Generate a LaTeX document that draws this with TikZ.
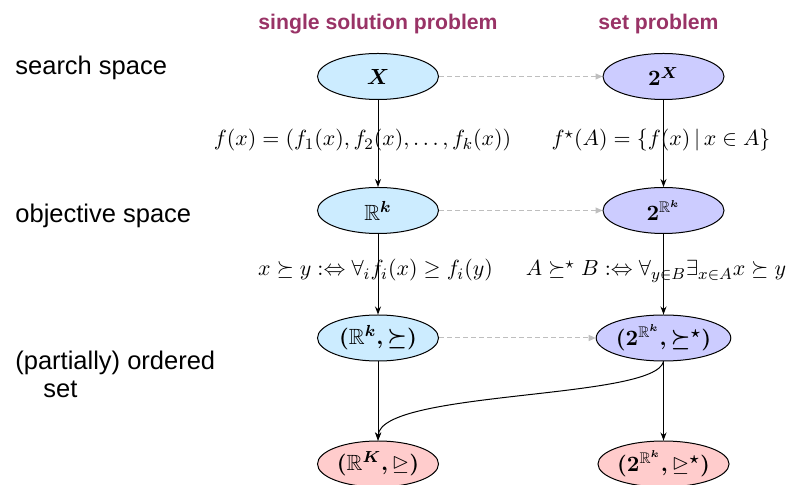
\documentclass[tikz,border=0pt]{standalone}
\usepackage{amsmath,amssymb}
\usepackage{fontspec}
\newfontfamily\arial{Liberation Sans}
\usetikzlibrary{arrows.meta,shapes.geometric}
\definecolor{hdr}{RGB}{153,51,102}
\definecolor{lblue}{RGB}{204,236,255}
\definecolor{lviolet}{RGB}{204,204,255}
\definecolor{lpink}{RGB}{255,204,204}
\definecolor{dgray}{RGB}{190,190,190}
\begin{document}
\begin{tikzpicture}[x=0.5pt,y=-0.5pt,
  ell/.style={ellipse,draw=black,line width=0.5pt,minimum width=60.5pt,minimum height=23pt,inner sep=0pt,font=\fontsize{11}{13}\selectfont\boldmath},
  lcol/.style={ell,fill=lblue},
  rcol/.style={ell,fill=lviolet},
  bcol/.style={ell,fill=lpink},
  sidelab/.style={anchor=base west,inner sep=0pt,font=\arial\fontsize{12.75}{15}\selectfont},
  hdrlab/.style={anchor=base,inner sep=0pt,text=hdr,font=\arial\bfseries\fontsize{10.6}{13}\selectfont},
  mathlab/.style={anchor=base,inner sep=0pt,font=\fontsize{11}{13}\selectfont},
  varrow/.style={line width=0.5pt,-{Stealth[length=4pt,width=3pt]}},
  harrow/.style={draw=dgray,line width=0.5pt,dash pattern=on 2.5pt off 1.5pt,-{Triangle[length=3.5pt,width=3pt,fill=dgray]}}
]
\useasboundingbox (0,0) rectangle (787,485);
% headers
\node[hdrlab] (h1) at (378,30) {single solution problem};
\node[hdrlab] (h2) at (658.5,30) {set problem};
% side labels
\node[sidelab] (s1) at (15,75) {search space};
\node[sidelab] (s2) at (15,223) {objective space};
\node[sidelab] (s3) at (15,370) {(partially) ordered};
\node[sidelab] (s4) at (43,398) {set};
% nodes
\node[lcol] (L1) at (378,76.5) {$X$};
\node[rcol] (R1) at (663.5,76.5) {$2^X$};
\node[lcol] (L2) at (378,210.5) {$\mathbb{R}^k$};
\node[rcol] (R2) at (663.5,210.5) {$2^{\mathbb{R}^k}$};
\node[lcol] (L3) at (378,338) {$(\mathbb{R}^k,\succeq)$};
\node[rcol] (R3) at (663.5,338) {$(2^{\mathbb{R}^k},\succeq^\star)$};
\node[bcol] (L4) at (378,464) {$(\mathbb{R}^K,\trianglerighteq)$};
\node[bcol] (R4) at (663.5,464) {$(2^{\mathbb{R}^k},\trianglerighteq^\star)$};
% connectors
\draw[varrow] (L1) -- (L2);
\draw[varrow] (L2) -- (L3);
\draw[varrow] (L3) -- (L4);
\draw[varrow] (R1) -- (R2);
\draw[varrow] (R2) -- (R3);
\draw[varrow] (R3) -- (R4);
\draw[harrow] (L1) -- (R1);
\draw[harrow] (L2) -- (R2);
\draw[harrow] (L3) -- (R3);
\draw[varrow] (R3.south) .. controls (655,400) and (380,390) .. (L4.north);
% labels
\node[mathlab] (m1) at (362.5,146) {$f(x) = (f_1(x), f_2(x), \ldots, f_k(x))$};
\node[mathlab] (m2) at (661,146) {$f^\star(A) = \{f(x) \,|\, x \in A\}$};
\node[mathlab] (m3) at (375.5,276) {$x \succeq y :\Leftrightarrow \forall_i f_i(x) \geq f_i(y)$};
\node[mathlab] (m4) at (656,276) {$A \succeq^\star B :\Leftrightarrow \forall_{y\in B}\exists_{x\in A} x \succeq y$};
\end{tikzpicture}
\end{document}
